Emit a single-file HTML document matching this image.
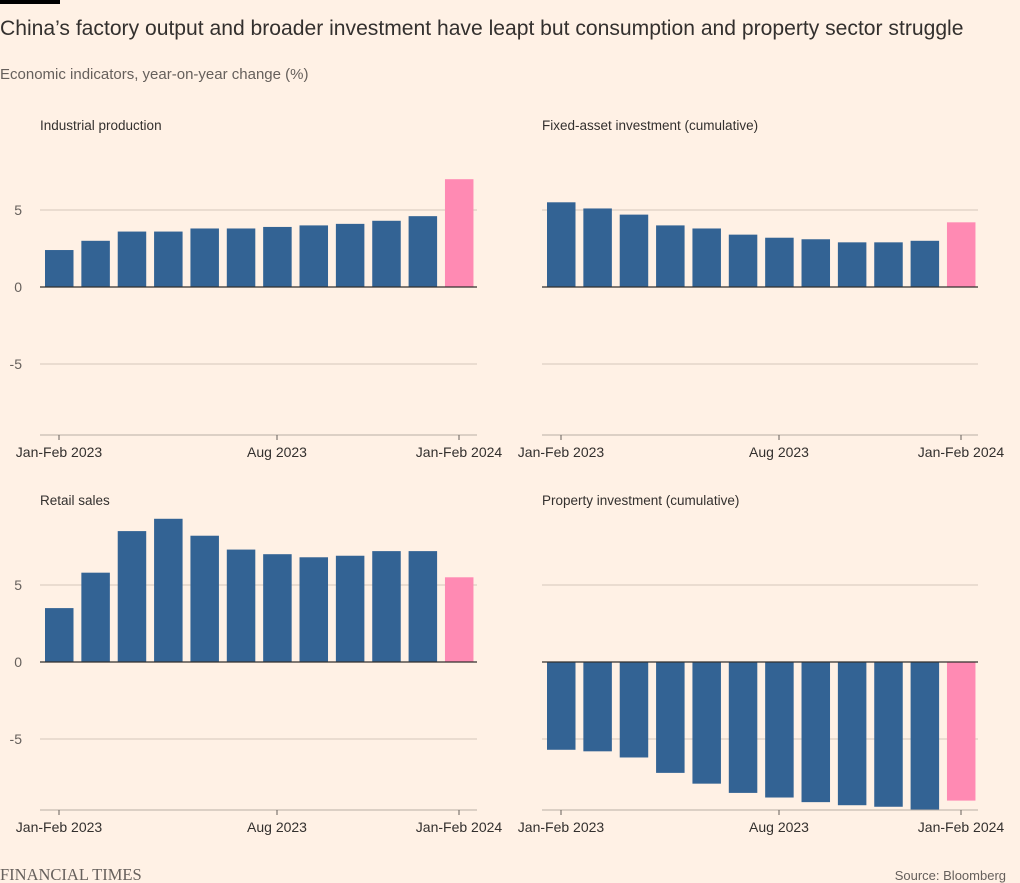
<!DOCTYPE html>
<html><head><meta charset="utf-8"><style>
body{margin:0;background:#fff1e5;}
svg{display:block;font-family:"Liberation Sans",sans-serif;}
</style></head><body>
<svg width="1020" height="883" xmlns="http://www.w3.org/2000/svg">
<rect width="1020" height="883" fill="#fff1e5"/>
<rect x="0" y="0" width="60" height="4" fill="#000"/>
<text x="0" y="35" font-size="21.1" fill="#33302e">China’s factory output and broader investment have leapt but consumption and property sector struggle</text>
<text x="0" y="79" font-size="15" fill="#66605c">Economic indicators, year-on-year change (%)</text>
<g id="charts"></g>
<text x="0" y="880" font-family="Liberation Serif,serif" font-size="16.5" fill="#66605c">FINANCIAL TIMES</text>
<text x="1006" y="880" font-size="13" fill="#66605c" text-anchor="end">Source: Bloomberg</text>
</svg>
<script>
const panels=[
 {x0:40,x1:477,zero:287,bot:435,title:"Industrial production",ty:130,labelY:5,
  v:[2.4,3.0,3.6,3.6,3.8,3.8,3.9,4.0,4.1,4.3,4.6,7.0]},
 {x0:542,x1:978,zero:287,bot:435,title:"Fixed-asset investment (cumulative)",ty:130,labelY:0,
  v:[5.5,5.1,4.7,4.0,3.8,3.4,3.2,3.1,2.9,2.9,3.0,4.2]},
 {x0:40,x1:477,zero:662,bot:810,title:"Retail sales",ty:505,labelY:5,
  v:[3.5,5.8,8.5,9.3,8.2,7.3,7.0,6.8,6.9,7.2,7.2,5.5]},
 {x0:542,x1:978,zero:662,bot:810,title:"Property investment (cumulative)",ty:505,labelY:0,
  v:[-5.7,-5.8,-6.2,-7.2,-7.9,-8.5,-8.8,-9.1,-9.3,-9.4,-9.6,-9.0]}
];
const ns="http://www.w3.org/2000/svg",g=document.getElementById("charts");
function el(t,a,txt){const e=document.createElementNS(ns,t);for(const k in a)e.setAttribute(k,a[k]);if(txt)e.textContent=txt;g.appendChild(e);return e;}
const s=15.4;
panels.forEach(p=>{
 el("text",{x:p.x0,y:p.ty,"font-size":13.5,fill:"#33302e"},p.title);
 [5,-5].forEach(t=>{const y=p.zero-t*s;el("line",{x1:p.x0,x2:p.x1,y1:y,y2:y,stroke:"#d5c8bc","stroke-width":1});});
 if(p.labelY){[5,0,-5].forEach(t=>el("text",{x:22,y:p.zero-t*s+5,"font-size":14,fill:"#66605c","text-anchor":"end"},String(t)));}
 const bx=p.x0+5,step=36.36,w=28.5;
 p.v.forEach((v,i)=>{const h=Math.abs(v)*s;const y=v>=0?p.zero-h:p.zero;
  el("rect",{x:bx+i*step,y:y,width:w,height:h,fill:i==11?"#ff8ab3":"#336394"});});
 el("line",{x1:p.x0,x2:p.x1,y1:p.zero,y2:p.zero,stroke:"#33302e","stroke-width":1.3});
 el("line",{x1:p.x0,x2:p.x1,y1:p.bot,y2:p.bot,stroke:"#b9aea5","stroke-width":1});
 [[19,"Jan-Feb 2023"],[237,"Aug 2023"],[419,"Jan-Feb 2024"]].forEach(([dx,l])=>{
  const x=p.x0+dx;el("line",{x1:x,x2:x,y1:p.bot,y2:p.bot+5,stroke:"#66605c"});
  el("text",{x:x,y:p.bot+22,"font-size":14,fill:"#33302e","text-anchor":"middle"},l);});
});
</script>
</body></html>
